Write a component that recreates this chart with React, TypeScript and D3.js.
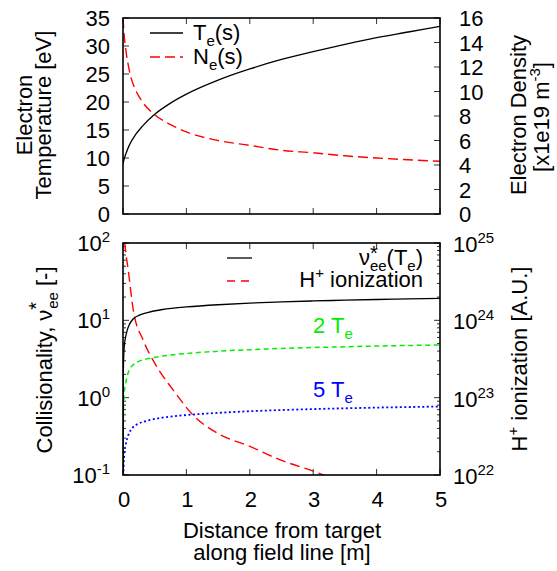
import React from 'react';
import * as d3 from 'd3';

// ---- data ----
const sTop = [0, 0.02, 0.05, 0.1, 0.2, 0.3, 0.5, 0.75, 1, 1.5, 2, 2.5, 3, 3.5, 4, 4.5, 5];
const teTop = [9.0, 9.9, 10.9, 12.3, 14.2, 15.6, 17.8, 19.8, 21.4, 23.9, 25.9, 27.6, 29.0, 30.3, 31.5, 32.5, 33.5];
const neTop = [16.0, 14.5, 13.2, 11.7, 10.1, 9.2, 8.1, 7.3, 6.7, 6.0, 5.6, 5.2, 5.0, 4.75, 4.57, 4.43, 4.3];

const sBot = [0, 0.005, 0.01, 0.02, 0.04, 0.07, 0.1, 0.16, 0.25, 0.4, 0.6, 0.8, 1.0, 1.5, 2, 2.5, 3, 3.5, 4, 4.5, 5];
const nuTe = [0.05, 2.0, 3.2, 4.6, 6.0, 7.6, 8.8, 10.4, 11.6, 12.7, 13.7, 14.4, 14.9, 15.9, 16.7, 17.3, 17.8, 18.2, 18.6, 18.9, 19.2];
const nu2Te = [0.0125, 0.5, 0.8, 1.15, 1.5, 1.95, 2.3, 2.65, 2.95, 3.2, 3.43, 3.6, 3.73, 3.98, 4.18, 4.33, 4.45, 4.55, 4.65, 4.73, 4.8];
const nu5Te = [0.002, 0.08, 0.128, 0.184, 0.24, 0.304, 0.352, 0.416, 0.464, 0.508, 0.548, 0.576, 0.596, 0.636, 0.668, 0.692, 0.712, 0.728, 0.744, 0.756, 0.768];

const sIon = [0, 0.03, 0.084, 0.163, 0.32, 0.505, 0.79, 1.11, 1.48, 2.0, 2.47, 3.0, 3.5, 4.0, 4.5, 5.0];
const hIon = [2.5e25, 1.0e25, 4.4e24, 1.35e24, 5.5e23, 2.75e23, 1.26e23, 5.9e22, 3.5e22, 2.35e22, 1.58e22, 1.12e22, 7.9e21, 6.0e21, 4.7e21, 3.7e21];

const xTicks = [0, 1, 2, 3, 4, 5];
const teTicks = [0, 5, 10, 15, 20, 25, 30, 35];
const neTicks = [0, 2, 4, 6, 8, 10, 12, 14, 16];
const nuDecades = [-1, 0, 1, 2];
const ionDecades = [22, 23, 24, 25];

const FONT = '"Liberation Sans", Arial, Helvetica, sans-serif';
const FS = 22;
const SUB = 15;

export default function App() {
  const L = 123, R = 440;
  const tT = 18, tB = 214;
  const bT = 243, bB = 475;

  const x = d3.scaleLinear().domain([0, 5]).range([L, R]);
  const yTe = d3.scaleLinear().domain([0, 35]).range([tB, tT]);
  const yNe = d3.scaleLinear().domain([0, 16]).range([tB, tT]);
  const yNu = d3.scaleLog().domain([0.1, 100]).range([bB, bT]);
  const yIon = d3.scaleLog().domain([1e22, 1e25]).range([bB, bT]);

  const mk = (xs: number[], ys: number[], yS: (v: number) => number) =>
    d3.line<number>().x((_, i) => x(xs[i])).y((v) => yS(v)).curve(d3.curveMonotoneX)(ys) || '';

  const pTe = mk(sTop, teTop, yTe);
  const pNe = mk(sTop, neTop, yNe);
  const pNu = mk(sBot, nuTe, yNu);
  const pNu2 = mk(sBot, nu2Te, yNu);
  const pNu5 = mk(sBot, nu5Te, yNu);
  const pIon = mk(sIon, hIon, yIon);

  const minorNu: number[] = [];
  for (let d = -1; d < 2; d++) for (let k = 2; k <= 9; k++) minorNu.push(k * Math.pow(10, d));

  const tick = 6, mtick = 3;
  const tickStroke = '#333';

  return (
    <svg width={557} height={571} style={{ position: 'absolute', left: 0, top: 0, background: '#fff' }}
      fontFamily={FONT} fontSize={FS}>
      <defs>
        <clipPath id="clipTop"><rect x={L} y={tT} width={R - L} height={tB - tT} /></clipPath>
        <clipPath id="clipBot"><rect x={L} y={bT} width={R - L} height={bB - bT} /></clipPath>
      </defs>
      <rect x={0} y={0} width={557} height={571} fill="#fff" />

      {/* ===== TOP PANEL ===== */}
      {xTicks.map((t) => (
        <g key={'xt' + t} stroke={tickStroke} strokeWidth={1}>
          <line x1={x(t)} x2={x(t)} y1={tB} y2={tB - tick} />
          <line x1={x(t)} x2={x(t)} y1={tT} y2={tT + tick} />
        </g>
      ))}
      {teTicks.map((t) => (
        <g key={'te' + t}>
          <line x1={L} x2={L + tick} y1={yTe(t)} y2={yTe(t)} stroke={tickStroke} />
          <text x={110} y={yTe(t) + 8} textAnchor="end">{t}</text>
        </g>
      ))}
      {neTicks.map((t) => (
        <g key={'ne' + t}>
          <line x1={R} x2={R - tick} y1={yNe(t)} y2={yNe(t)} stroke={tickStroke} />
          <text x={459} y={yNe(t) + 8} textAnchor="start">{t}</text>
        </g>
      ))}
      <g clipPath="url(#clipTop)" fill="none">
        <path d={pTe} stroke="#000" strokeWidth={1.3} />
        <path d={pNe} stroke="#ff0000" strokeWidth={1.4} strokeDasharray="10,5" />
      </g>
      {/* top legend */}
      <line x1={150} x2={183} y1={33} y2={33} stroke="#000" strokeWidth={1.3} />
      <text x={193} y={40}>T<tspan fontSize={SUB} dy={6}>e</tspan><tspan dy={-6}>(s)</tspan></text>
      <line x1={150} x2={183} y1={57} y2={57} stroke="#ff0000" strokeWidth={1.4} strokeDasharray="10,5" />
      <text x={193} y={64}>N<tspan fontSize={SUB} dy={6}>e</tspan><tspan dy={-6}>(s)</tspan></text>
      <rect x={L} y={tT} width={R - L} height={tB - tT} fill="none" stroke="#000" strokeWidth={1.6} />

      {/* top axis titles */}
      <text transform="translate(32,115) rotate(-90)" textAnchor="middle">Electron</text>
      <text transform="translate(51,115) rotate(-90)" textAnchor="middle">Temperature [eV]</text>
      <text transform="translate(526,115) rotate(-90)" textAnchor="middle">Electron Density</text>
      <text transform="translate(549,117) rotate(-90)" textAnchor="middle">[x1e19 m<tspan fontSize={SUB} dy={-9}>-3</tspan><tspan dy={9}>]</tspan></text>

      {/* ===== BOTTOM PANEL ===== */}
      {xTicks.map((t) => (
        <g key={'xb' + t}>
          <line x1={x(t)} x2={x(t)} y1={bB} y2={bB - tick} stroke={tickStroke} />
          <line x1={x(t)} x2={x(t)} y1={bT} y2={bT + tick} stroke={tickStroke} />
          <text x={x(t) + 1} y={507} textAnchor="middle">{t}</text>
        </g>
      ))}
      {minorNu.map((v) => (
        <g key={'mn' + v} stroke={tickStroke}>
          <line x1={L} x2={L + mtick} y1={yNu(v)} y2={yNu(v)} />
          <line x1={R} x2={R - mtick} y1={yIon(v * 1e23)} y2={yIon(v * 1e23)} />
        </g>
      ))}
      {nuDecades.map((d) => (
        <g key={'nd' + d}>
          <line x1={L} x2={L + tick} y1={yNu(Math.pow(10, d))} y2={yNu(Math.pow(10, d))} stroke={tickStroke} />
          <text x={110} y={yNu(Math.pow(10, d)) + 8} textAnchor="end">10<tspan fontSize={SUB} dy={-9}>{d}</tspan></text>
        </g>
      ))}
      {ionDecades.map((d) => (
        <g key={'id' + d}>
          <line x1={R} x2={R - tick} y1={yIon(Math.pow(10, d))} y2={yIon(Math.pow(10, d))} stroke={tickStroke} />
          <text x={453} y={yIon(Math.pow(10, d)) + 9} textAnchor="start">10<tspan fontSize={SUB} dy={-9}>{d}</tspan></text>
        </g>
      ))}
      <g clipPath="url(#clipBot)" fill="none">
        <path d={pIon} stroke="#ff0000" strokeWidth={1.4} strokeDasharray="10,5" />
        <path d={pNu2} stroke="#00ee00" strokeWidth={1.5} strokeDasharray="5,3.5" />
        <path d={pNu5} stroke="#0000ff" strokeWidth={1.8} strokeDasharray="2,2.5" />
        <path d={pNu} stroke="#000" strokeWidth={1.3} />
      </g>
      {/* bottom legend */}
      <line x1={227} x2={252} y1={258} y2={258} stroke="#000" strokeWidth={1.3} />
      <text x={423} y={265} textAnchor="end">ν<tspan fontSize={20} dy={-5}>*</tspan><tspan fontSize={SUB} dx={-8} dy={11}>ee</tspan><tspan dy={-6}>(T</tspan><tspan fontSize={SUB} dy={6}>e</tspan><tspan dy={-6}>)</tspan></text>
      <line x1={227} x2={252} y1={281} y2={281} stroke="#ff0000" strokeWidth={1.4} strokeDasharray="8,6" />
      <text x={423} y={287} textAnchor="end">H<tspan fontSize={SUB} dy={-9}>+</tspan><tspan dy={9}> ionization</tspan></text>

      <text x={313} y={333} fill="#00ee00">2 T<tspan fontSize={SUB} dy={6}>e</tspan></text>
      <text x={313} y={397} fill="#0000ff">5 T<tspan fontSize={SUB} dy={6}>e</tspan></text>

      <rect x={L} y={bT} width={R - L} height={bB - bT} fill="none" stroke="#000" strokeWidth={1.6} />

      {/* bottom axis titles */}
      <text transform="translate(52,360) rotate(-90)" textAnchor="middle">Collisionality, ν<tspan fontSize={20} dy={-9}>*</tspan><tspan fontSize={SUB} dx={-7} dy={15}>ee</tspan><tspan dy={-6}> [-]</tspan></text>
      <text transform="translate(527,359) rotate(-90)" textAnchor="middle">H<tspan fontSize={SUB} dy={-9}>+</tspan><tspan dy={9}> ionization [A.U.]</tspan></text>

      <text x={282} y={538} textAnchor="middle">Distance from target</text>
      <text x={282} y={560} textAnchor="middle">along field line [m]</text>
    </svg>
  );
}
